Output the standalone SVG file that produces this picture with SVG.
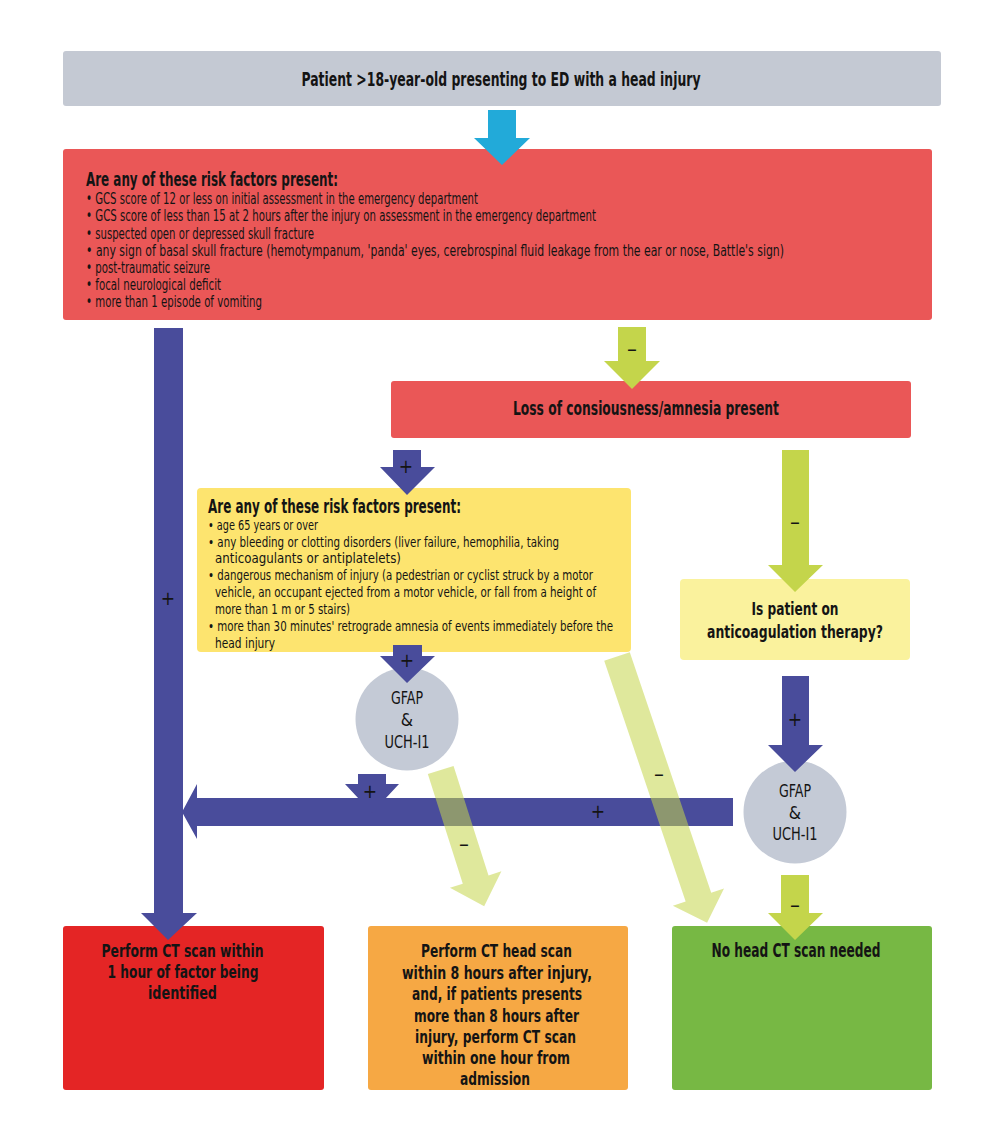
<svg xmlns="http://www.w3.org/2000/svg" width="1000" height="1138" viewBox="0 0 1000 1138">
<style>
text{font-family:"Liberation Sans Narrow","DejaVu Sans Condensed","Liberation Sans",sans-serif;font-stretch:condensed;fill:#141414}
.h{font-size:20px;font-weight:bold}
.k{font-size:18px;font-weight:bold;text-anchor:middle}
.l{font-size:15px}
.y{font-size:14.2px}
.g{font-size:17.5px;text-anchor:middle}
.s{font-size:19px;text-anchor:middle}
.m{font-size:22px;text-anchor:middle}
.c{text-anchor:middle}
.blue{fill:#494c9b}
.grn{fill:#c4d54b}
.diag{fill:#c4d54b;opacity:0.55}
</style>
<rect width="1000" height="1138" fill="#ffffff"/>

<g id="start">
<rect x="63" y="51" width="878" height="55" rx="3" fill="#c4c9d3"/>
<text class="h c" x="501" y="85.5" textLength="399" lengthAdjust="spacingAndGlyphs">Patient &gt;18-year-old presenting to ED with a head injury</text>
</g>

<g id="risk1">
<rect x="63" y="149" width="869" height="171" rx="3" fill="#ea5757"/>
<text class="h" x="86" y="186" textLength="252" lengthAdjust="spacingAndGlyphs">Are any of these risk factors present:</text>
<text class="l" x="86" y="204.3" textLength="392" lengthAdjust="spacingAndGlyphs">• GCS score of 12 or less on initial assessment in the emergency department</text>
<text class="l" x="86" y="221.4" textLength="510" lengthAdjust="spacingAndGlyphs">• GCS score of less than 15 at 2 hours after the injury on assessment in the emergency department</text>
<text class="l" x="86" y="238.5" textLength="228" lengthAdjust="spacingAndGlyphs">• suspected open or depressed skull fracture</text>
<text class="l" x="86" y="255.6" textLength="698" lengthAdjust="spacingAndGlyphs">• any sign of basal skull fracture (hemotympanum, 'panda' eyes, cerebrospinal fluid leakage from the ear or nose, Battle's sign)</text>
<text class="l" x="86" y="272.7" textLength="124" lengthAdjust="spacingAndGlyphs">• post-traumatic seizure</text>
<text class="l" x="86" y="289.8" textLength="135" lengthAdjust="spacingAndGlyphs">• focal neurological deficit</text>
<text class="l" x="86" y="306.9" textLength="176" lengthAdjust="spacingAndGlyphs">• more than 1 episode of vomiting</text>
</g>

<g id="loc">
<rect x="391" y="381" width="520" height="57" rx="3" fill="#ea5757"/>
<text class="h c" x="646" y="415" textLength="266" lengthAdjust="spacingAndGlyphs">Loss of consiousness/amnesia present</text>
</g>

<g id="risk2">
<rect x="197" y="488" width="434" height="164" rx="4" fill="#fde46f"/>
<text class="h" x="208" y="512.5" textLength="253" lengthAdjust="spacingAndGlyphs">Are any of these risk factors present:</text>
<text class="y" x="208" y="529.5" textLength="110" lengthAdjust="spacingAndGlyphs">• age 65 years or over</text>
<text class="y" x="208" y="546.5" textLength="351" lengthAdjust="spacingAndGlyphs">• any bleeding or clotting disorders (liver failure, hemophilia, taking</text>
<text class="y" x="215" y="563.4" textLength="186" lengthAdjust="spacingAndGlyphs">anticoagulants or antiplatelets)</text>
<text class="y" x="208" y="580.4" textLength="385" lengthAdjust="spacingAndGlyphs">• dangerous mechanism of injury (a pedestrian or cyclist struck by a motor</text>
<text class="y" x="215" y="597.3" textLength="381" lengthAdjust="spacingAndGlyphs">vehicle, an occupant ejected from a motor vehicle, or fall from a height of</text>
<text class="y" x="215" y="614.3" textLength="135" lengthAdjust="spacingAndGlyphs">more than 1 m or 5 stairs)</text>
<text class="y" x="208" y="631.2" font-size="13.6" textLength="405" lengthAdjust="spacingAndGlyphs">• more than 30 minutes' retrograde amnesia of events immediately before the</text>
<text class="y" x="215" y="648.2" textLength="60" lengthAdjust="spacingAndGlyphs">head injury</text>
</g>

<g id="anticoag">
<rect x="680" y="579" width="230" height="81" rx="4" fill="#faf29d"/>
<text class="k" x="795" y="614.5" textLength="87" lengthAdjust="spacingAndGlyphs">Is patient on</text>
<text class="k" x="795" y="637.5" textLength="176" lengthAdjust="spacingAndGlyphs">anticoagulation therapy?</text>
</g>

<g id="gfap1">
<circle cx="407" cy="719" r="51.5" fill="#c4cad6"/>
<text class="g" x="407" y="703.5" textLength="32" lengthAdjust="spacingAndGlyphs">GFAP</text>
<text class="g" x="407" y="725.5">&amp;</text>
<text class="g" x="407" y="747.5" textLength="45" lengthAdjust="spacingAndGlyphs">UCH-I1</text>
</g>

<g id="gfap2">
<circle cx="795" cy="812" r="51.5" fill="#c4cad6"/>
<text class="g" x="795" y="797" textLength="32" lengthAdjust="spacingAndGlyphs">GFAP</text>
<text class="g" x="795" y="818.5">&amp;</text>
<text class="g" x="795" y="840" textLength="45" lengthAdjust="spacingAndGlyphs">UCH-I1</text>
</g>

<g id="ct1h">
<rect x="63" y="926" width="261" height="164" rx="3" fill="#e42525"/>
<text class="k" x="182.5" y="957" textLength="162" lengthAdjust="spacingAndGlyphs">Perform CT scan within</text>
<text class="k" x="183" y="978" textLength="151" lengthAdjust="spacingAndGlyphs">1 hour of factor being</text>
<text class="k" x="182.5" y="998.5" textLength="69" lengthAdjust="spacingAndGlyphs">identified</text>
</g>

<g id="ct8h">
<rect x="368" y="926" width="260" height="164" rx="3" fill="#f6a844"/>
<text class="k" x="496.5" y="957" textLength="151" lengthAdjust="spacingAndGlyphs">Perform CT head scan</text>
<text class="k" x="497" y="978.5" textLength="190" lengthAdjust="spacingAndGlyphs">within 8 hours after injury,</text>
<text class="k" x="497" y="1000" textLength="170" lengthAdjust="spacingAndGlyphs">and, if patients presents</text>
<text class="k" x="496.5" y="1021.5" textLength="165" lengthAdjust="spacingAndGlyphs">more than 8 hours after</text>
<text class="k" x="495.5" y="1043" textLength="161" lengthAdjust="spacingAndGlyphs">injury, perform CT scan</text>
<text class="k" x="496" y="1064" textLength="148" lengthAdjust="spacingAndGlyphs">within one hour from</text>
<text class="k" x="495" y="1085" textLength="70" lengthAdjust="spacingAndGlyphs">admission</text>
</g>

<g id="noct">
<rect x="672" y="926" width="260" height="164" rx="3" fill="#77b844"/>
<text class="h c" x="796" y="957" textLength="169" lengthAdjust="spacingAndGlyphs">No head CT scan needed</text>
</g>

<g id="connectors">
<polygon fill="#22aad9" points="488,110 516,110 516,138 530,138 502,165 474,138 488,138"/>
<polygon class="blue" points="154,328 183,328 183,913 197,913 168,940 141,913 154,913"/>
<polygon class="blue" points="733,798 197,798 197,784 182,812 197,839 197,826 733,826"/>
<polygon class="blue" points="358,774 386,774 386,784 399,784 372,813 345,784 358,784"/>
<polygon class="blue" points="393,450 421,450 421,467 435,467 407,495 380,467 393,467"/>
<polygon class="blue" points="393,645 422,645 422,656 435,656 407,683 380,656 393,656"/>
<polygon class="blue" points="782,676 809,676 809,745 823,745 795,772 768,745 782,745"/>
<polygon class="grn" points="618,327 646,327 646,361 660,361 632,389 604,361 618,361"/>
<polygon class="grn" points="782,450 809,450 809,565 823,565 795,592 768,565 782,565"/>
<polygon class="grn" points="781,875 809,875 809,913 823,913 795,940 768,913 781,913"/>
<polygon class="diag" transform="translate(440.7,770) rotate(-17.7)" points="-13.5,0 13.5,0 13.5,115 27,115 0,143 -27,115 -13.5,115"/>
<polygon class="diag" transform="translate(617,656.5) rotate(-18.7)" points="-13.5,0 13.5,0 13.5,254 27,254 0,281 -27,254 -13.5,254"/>
<text class="s" x="168" y="605">+</text>
<text class="s" x="406" y="473">+</text>
<text class="s" x="407" y="667">+</text>
<text class="s" x="370" y="798">+</text>
<text class="s" x="598" y="818">+</text>
<text class="s" x="795" y="726">+</text>
<text class="m" x="632" y="356">–</text>
<text class="m" x="795" y="529">–</text>
<text class="m" x="795" y="912">–</text>
<text class="m" x="464" y="851">–</text>
<text class="m" x="659" y="781">–</text>
</g>
</svg>
